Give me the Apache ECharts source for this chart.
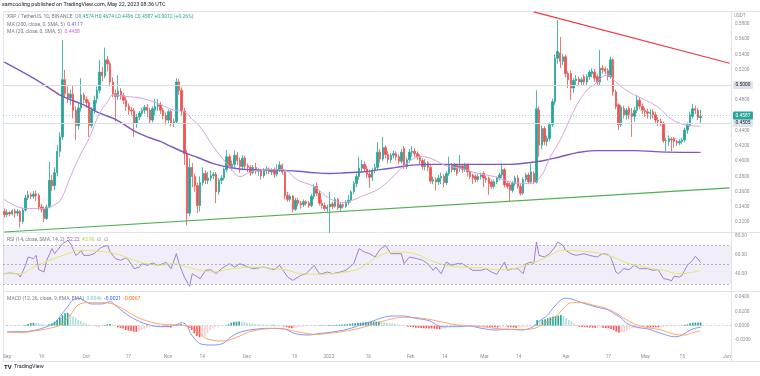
<!DOCTYPE html>
<html>
<head>
<meta charset="utf-8">
<title>XRP / TetherUS 1D</title>
<script src="https://cdn.jsdelivr.net/npm/echarts@6.0.0/dist/echarts.min.js"></script>
<style>
  html, body { margin: 0; padding: 0; background: #fff; }
  #chart { width: 760px; height: 376px; }
</style>
</head>
<body>
<div id="chart"></div>
<script>
// daily candles, [open, close, low, high], first day 2022-09-01
const candlesSep = [
  [0.334,0.330,0.326,0.338],[0.330,0.333,0.327,0.337],[0.333,0.331,0.328,0.335],[0.331,0.335,0.329,0.337],
  [0.335,0.332,0.326,0.338],[0.332,0.334,0.328,0.337],[0.334,0.321,0.313,0.336],[0.321,0.336,0.318,0.339],
  [0.336,0.352,0.334,0.356],[0.352,0.356,0.349,0.361],[0.356,0.354,0.350,0.359],[0.354,0.357,0.351,0.361],
  [0.357,0.355,0.348,0.362],[0.355,0.340,0.336,0.358],[0.340,0.337,0.333,0.344],[0.337,0.325,0.320,0.341],
  [0.325,0.340,0.323,0.343],[0.340,0.375,0.338,0.399],[0.375,0.368,0.361,0.382],[0.368,0.385,0.362,0.392],
  [0.385,0.413,0.380,0.421],[0.413,0.432,0.406,0.438],[0.432,0.507,0.428,0.559],[0.507,0.489,0.484,0.520],
  [0.489,0.483,0.476,0.498],[0.483,0.488,0.474,0.494],[0.488,0.467,0.456,0.500],[0.467,0.447,0.428,0.472],
  [0.447,0.470,0.442,0.476],[0.470,0.487,0.465,0.509]
];
const candlesOct = [
  [0.487,0.481,0.476,0.490],[0.481,0.477,0.470,0.485],[0.477,0.447,0.432,0.480],[0.447,0.467,0.444,0.471],
  [0.467,0.480,0.462,0.486],[0.482,0.493,0.476,0.498],[0.493,0.517,0.489,0.533],[0.517,0.512,0.505,0.524],
  [0.512,0.533,0.509,0.549],[0.533,0.528,0.518,0.538],[0.528,0.504,0.498,0.531],[0.504,0.489,0.484,0.510],
  [0.489,0.485,0.452,0.494],[0.485,0.492,0.480,0.513],[0.492,0.486,0.481,0.496],[0.486,0.480,0.475,0.490],
  [0.480,0.472,0.466,0.484],[0.472,0.467,0.461,0.476],[0.467,0.466,0.460,0.471],[0.466,0.450,0.432,0.470],
  [0.450,0.458,0.444,0.462],[0.458,0.463,0.454,0.466],[0.463,0.467,0.459,0.470],[0.467,0.471,0.462,0.474],
  [0.471,0.467,0.458,0.475],[0.467,0.454,0.449,0.470],[0.454,0.469,0.451,0.472],[0.467,0.472,0.460,0.482],
  [0.472,0.474,0.466,0.482],[0.474,0.467,0.462,0.478],[0.467,0.460,0.455,0.470]
];
const candlesNov = [
  [0.460,0.454,0.448,0.464],[0.454,0.465,0.450,0.468],[0.465,0.450,0.446,0.468],[0.450,0.452,0.445,0.456],
  [0.452,0.504,0.450,0.509],[0.504,0.493,0.487,0.508],[0.493,0.466,0.460,0.497],[0.466,0.410,0.395,0.470],
  [0.410,0.332,0.316,0.415],[0.332,0.392,0.328,0.404],[0.392,0.380,0.366,0.398],[0.380,0.368,0.360,0.384],
  [0.368,0.342,0.332,0.372],[0.342,0.372,0.334,0.380],[0.372,0.384,0.368,0.392],[0.384,0.375,0.370,0.388],
  [0.375,0.378,0.370,0.386],[0.378,0.381,0.374,0.388],[0.381,0.383,0.377,0.386],[0.383,0.360,0.345,0.386],
  [0.360,0.375,0.356,0.378],[0.375,0.378,0.370,0.382],[0.378,0.389,0.375,0.392],[0.389,0.406,0.386,0.415],
  [0.406,0.393,0.390,0.409],[0.393,0.396,0.388,0.401],[0.396,0.408,0.392,0.414],[0.408,0.401,0.395,0.412],
  [0.401,0.393,0.385,0.405],[0.393,0.404,0.390,0.408]
];
const candlesDec = [
  [0.404,0.394,0.390,0.407],[0.394,0.392,0.386,0.397],[0.392,0.385,0.381,0.395],[0.385,0.392,0.383,0.395],
  [0.392,0.387,0.383,0.398],[0.387,0.388,0.381,0.391],[0.388,0.381,0.376,0.390],[0.381,0.388,0.378,0.391],
  [0.388,0.390,0.383,0.394],[0.390,0.386,0.383,0.392],[0.386,0.389,0.382,0.391],[0.389,0.383,0.378,0.392],
  [0.383,0.389,0.380,0.396],[0.389,0.395,0.386,0.400],[0.395,0.386,0.382,0.397],[0.386,0.355,0.350,0.388],
  [0.355,0.350,0.347,0.360],[0.350,0.354,0.347,0.357],[0.354,0.337,0.333,0.356],[0.337,0.349,0.335,0.352],
  [0.349,0.345,0.341,0.352],[0.345,0.343,0.338,0.348],[0.343,0.347,0.340,0.350],[0.347,0.345,0.342,0.349],
  [0.345,0.342,0.339,0.348],[0.342,0.354,0.340,0.357],[0.354,0.367,0.350,0.370],[0.367,0.358,0.354,0.372],
  [0.358,0.345,0.342,0.361],[0.345,0.342,0.338,0.350],[0.342,0.338,0.335,0.346]
];
const candlesJan = [
  [0.338,0.340,0.334,0.343],[0.340,0.344,0.306,0.360],[0.344,0.341,0.337,0.347],[0.341,0.350,0.339,0.353],
  [0.350,0.339,0.336,0.352],[0.339,0.343,0.334,0.346],[0.343,0.341,0.338,0.345],[0.341,0.346,0.339,0.349],
  [0.346,0.349,0.343,0.356],[0.349,0.360,0.346,0.362],[0.360,0.371,0.357,0.374],[0.371,0.380,0.366,0.384],
  [0.380,0.391,0.376,0.406],[0.391,0.396,0.386,0.402],[0.396,0.390,0.386,0.400],[0.390,0.383,0.378,0.394],
  [0.383,0.379,0.365,0.389],[0.379,0.388,0.374,0.391],[0.388,0.392,0.384,0.397],[0.392,0.412,0.389,0.425],
  [0.412,0.403,0.398,0.416],[0.403,0.418,0.400,0.432],[0.418,0.409,0.404,0.421],[0.409,0.402,0.397,0.413],
  [0.402,0.408,0.398,0.411],[0.408,0.410,0.404,0.414],[0.410,0.406,0.401,0.413],[0.406,0.400,0.396,0.409],
  [0.400,0.412,0.397,0.416],[0.417,0.393,0.390,0.420],[0.393,0.402,0.390,0.405]
];
const candlesFeb = [
  [0.402,0.412,0.398,0.416],[0.412,0.413,0.406,0.420],[0.413,0.410,0.405,0.417],[0.410,0.406,0.402,0.413],
  [0.406,0.401,0.396,0.409],[0.401,0.393,0.389,0.404],[0.393,0.398,0.388,0.403],[0.398,0.392,0.387,0.400],
  [0.392,0.374,0.371,0.395],[0.374,0.376,0.370,0.380],[0.376,0.373,0.362,0.379],[0.373,0.378,0.369,0.382],
  [0.378,0.380,0.370,0.385],[0.380,0.372,0.366,0.383],[0.372,0.384,0.369,0.387],[0.384,0.395,0.381,0.406],
  [0.395,0.389,0.385,0.398],[0.389,0.395,0.386,0.398],[0.395,0.384,0.381,0.397],[0.392,0.394,0.386,0.408],
  [0.394,0.389,0.385,0.396],[0.389,0.395,0.386,0.398],[0.395,0.386,0.380,0.397],[0.386,0.380,0.377,0.389],
  [0.382,0.378,0.370,0.384],[0.380,0.376,0.372,0.383],[0.376,0.380,0.373,0.383],[0.380,0.382,0.376,0.385]
];
const candlesMar = [
  [0.384,0.378,0.366,0.387],[0.378,0.376,0.372,0.381],[0.378,0.371,0.356,0.380],[0.373,0.367,0.364,0.376],
  [0.367,0.373,0.364,0.376],[0.373,0.378,0.370,0.380],[0.378,0.382,0.375,0.385],[0.382,0.389,0.378,0.397],
  [0.389,0.369,0.366,0.391],[0.371,0.367,0.364,0.374],[0.369,0.362,0.347,0.372],[0.362,0.371,0.359,0.374],
  [0.371,0.378,0.367,0.381],[0.378,0.367,0.364,0.382],[0.367,0.358,0.355,0.370],[0.358,0.376,0.356,0.379],
  [0.376,0.382,0.373,0.385],[0.382,0.373,0.370,0.385],[0.373,0.386,0.370,0.397],[0.384,0.373,0.370,0.387],
  [0.373,0.469,0.371,0.493],[0.467,0.421,0.406,0.472],[0.421,0.443,0.416,0.447],[0.443,0.426,0.421,0.446],
  [0.426,0.430,0.420,0.434],[0.430,0.448,0.426,0.451],[0.448,0.478,0.445,0.482],[0.478,0.535,0.474,0.540],
  [0.535,0.544,0.528,0.585],[0.542,0.531,0.522,0.563],[0.531,0.537,0.526,0.541]
];
const candlesApr = [
  [0.537,0.515,0.510,0.540],[0.515,0.507,0.496,0.518],[0.515,0.496,0.480,0.519],[0.496,0.506,0.490,0.509],
  [0.506,0.508,0.500,0.513],[0.508,0.504,0.498,0.511],[0.504,0.507,0.500,0.510],[0.511,0.504,0.500,0.514],
  [0.504,0.511,0.500,0.514],[0.511,0.517,0.507,0.520],[0.515,0.518,0.510,0.522],[0.517,0.509,0.504,0.521],
  [0.511,0.504,0.500,0.514],[0.504,0.522,0.500,0.546],[0.522,0.520,0.515,0.526],[0.521,0.518,0.514,0.524],
  [0.519,0.511,0.506,0.522],[0.511,0.533,0.508,0.537],[0.533,0.491,0.486,0.535],[0.491,0.472,0.468,0.494],
  [0.474,0.448,0.441,0.476],[0.448,0.471,0.445,0.474],[0.469,0.461,0.456,0.473],[0.461,0.467,0.455,0.470],
  [0.469,0.461,0.455,0.472],[0.463,0.459,0.432,0.470],[0.459,0.467,0.452,0.471],[0.467,0.480,0.463,0.487],
  [0.480,0.472,0.468,0.483],[0.472,0.467,0.462,0.476]
];
const candlesMay = [
  [0.467,0.465,0.458,0.470],[0.465,0.463,0.456,0.469],[0.463,0.464,0.455,0.468],[0.465,0.461,0.456,0.468],
  [0.461,0.454,0.450,0.465],[0.454,0.452,0.446,0.458],[0.452,0.450,0.446,0.456],[0.450,0.427,0.424,0.452],
  [0.427,0.427,0.413,0.431],[0.426,0.430,0.420,0.434],[0.429,0.428,0.413,0.432],[0.430,0.426,0.418,0.432],
  [0.426,0.424,0.420,0.428],[0.424,0.426,0.421,0.429],[0.426,0.428,0.422,0.431],[0.428,0.441,0.425,0.444],
  [0.441,0.448,0.436,0.451],[0.448,0.461,0.445,0.465],[0.459,0.469,0.456,0.475],[0.469,0.467,0.462,0.473],
  [0.467,0.4575,0.454,0.470],[0.4574,0.4587,0.4496,0.4674]
];

// moving averages, [day index, value]
const ma200Points = [
  [0,0.530],[11,0.509],[17,0.496],[22,0.485],[30,0.474],[36,0.463],[42,0.455],[49,0.440],[54,0.432],
  [59,0.426],[62,0.421],[69,0.410],[73,0.405],[79,0.397],[85,0.392],[92,0.389],[98,0.389],[105,0.388],
  [111,0.387],[117,0.385],[123,0.384],[129,0.385],[135,0.386],[142,0.389],[148,0.392],[154,0.395],
  [161,0.396],[167,0.396],[179,0.396],[191,0.396],[200,0.399],[204,0.401],[210,0.406],[216,0.411],
  [223,0.414],[238,0.414],[250,0.412],[263,0.4117]
];
const ma20Points = [
  [0,0.350],[8,0.338],[14,0.338],[20,0.345],[22,0.354],[25,0.380],[29,0.4105],[32,0.430],[36,0.463],
  [39,0.478],[41,0.487],[46,0.485],[51,0.483],[58,0.476],[64,0.467],[68,0.465],[71,0.455],[74,0.445],
  [79,0.419],[86,0.389],[89,0.380],[93,0.386],[98,0.389],[105,0.389],[111,0.375],[117,0.367],[123,0.351],
  [128,0.346],[130,0.347],[135,0.354],[142,0.365],[148,0.384],[152,0.397],[157,0.406],[161,0.404],
  [167,0.394],[172,0.391],[179,0.384],[185,0.380],[191,0.373],[196,0.371],[199,0.371],[203,0.382],
  [206,0.404],[210,0.428],[216,0.472],[220,0.493],[223,0.501],[226,0.511],[228,0.513],[231,0.504],
  [235,0.493],[241,0.482],[247,0.471],[251,0.458],[255,0.450],[259,0.447],[263,0.4458]
];
// drawn trend lines and horizontal levels
const resistanceLine = [[200,0.596],[274,0.5285]];
const supportLine = [[0,0.3073],[274,0.3651]];
const levelLines = [0.5000, 0.4505];

// RSI (14) and its SMA (14)
const rsiPoints = [
  [0,40.6],[2,41.3],[5,40.6],[6,37.2],[8,49.3],[9,57.9],[11,56.2],[12,59.6],[13,44.8],[15,42.4],[16,54.5],
  [18,66.6],[19,61.4],[20,64.8],[22,71.7],[24,75.2],[25,71.7],[27,59.6],[28,61.4],[29,64.8],[30,59.6],
  [32,59.6],[34,61.4],[36,66.6],[37,68.3],[39,70],[40,63.1],[42,56.2],[44,54.5],[46,57.2],[47,54.5],
  [49,45.8],[51,47.5],[52,51],[54,49.3],[56,51.6],[58,49.3],[60,51],[61,52.7],[63,45.8],[65,61.4],[66,51],
  [67,44.1],[68,37.2],[70,27.5],[71,40.6],[73,37.2],[74,35.5],[76,44.1],[78,44.8],[80,40.6],[82,45.8],
  [85,51],[87,47.5],[89,51],[92,47.5],[94,45.8],[98,47.5],[102,44.8],[104,49.3],[107,37.2],[109,33.7],
  [112,38.9],[114,40.6],[117,49.3],[119,40.6],[120,40.6],[122,42.4],[124,40.6],[127,42.4],[129,44.1],
  [132,51],[134,66.6],[136,63.1],[138,61.4],[140,57.9],[142,66],[144,70],[146,61.4],[150,61.4],[151,51],
  [153,57.9],[156,56.2],[158,54.5],[160,51],[162,44.1],[163,47.5],[165,40.6],[167,52.7],[169,49.3],
  [171,51],[173,51],[175,47.5],[177,44.1],[180,44.1],[182,45.8],[184,42.4],[186,40],[189,52.7],[190,44.1],
  [192,45.8],[194,45.8],[196,40.6],[197,51],[199,52.7],[200,51],[201,73.4],[202,59.6],[204,57.9],
  [206,61.4],[208,68.3],[209,73.4],[211,70],[212,64.8],[214,61.4],[216,59.6],[219,61.4],[221,59.6],
  [224,57.9],[226,61.4],[228,60.7],[229,57.9],[230,51],[231,42.4],[232,40.6],[234,45.8],[236,44.8],
  [238,49.3],[240,45.8],[243,45.8],[245,44.1],[247,44.8],[249,35.5],[251,34.5],[252,33.1],[253,37.9],
  [255,37.2],[256,38.9],[258,49.3],[260,54.5],[261,58.6],[262,56.2],[263,52.22]
];
const rsiMaPoints = [
  [0,40.6],[6,40.6],[11,47.5],[17,54.5],[24,61.4],[29,64.8],[34,64.1],[39,63.1],[44,59.6],[49,54.5],
  [54,51],[59,49.3],[64,51],[69,47.5],[74,44.1],[79,42.4],[86,45.8],[94,47.5],[102,45.8],[107,44.1],
  [112,40.6],[118,40],[124,40.6],[129,42.4],[134,45.8],[142,59.6],[148,63.1],[155,61.4],[161,54.5],
  [167,49.3],[173,47.5],[180,46.8],[186,44.8],[192,45.8],[199,51],[205,57.9],[211,64.8],[218,64.1],
  [224,62.1],[230,57.9],[236,51],[243,46.8],[249,44.1],[255,40.6],[259,41.6],[263,43.96]
];

// MACD (12, 26, 9)
const macdPoints = [
  [0,-0.0084],[6,-0.0084],[11,-0.006],[15,-0.0014],[18,0.0033],[20,0.0126],[23,0.0266],[25,0.036],
  [27,0.0383],[30,0.0336],[32,0.0304],[36,0.0304],[39,0.0336],[41,0.0289],[44,0.0196],[49,0.008],
  [54,0.001],[59,-0.0014],[64,0.001],[66,0.0042],[68,0.001],[70,-0.013],[74,-0.026],[78,-0.027],
  [82,-0.0245],[85,-0.0154],[89,-0.0084],[94,-0.005],[99,-0.0037],[105,-0.0046],[109,-0.0107],
  [114,-0.013],[119,-0.0107],[124,-0.0084],[129,-0.005],[134,0.001],[138,0.0056],[142,0.0108],
  [146,0.0136],[150,0.0136],[155,0.0103],[160,0.007],[165,-0.0014],[170,-0.0014],[175,-0.0005],
  [180,-0.0037],[185,-0.006],[190,-0.005],[195,-0.006],[199,-0.0023],[202,0.007],[205,0.015],
  [207,0.0243],[210,0.036],[212,0.0383],[214,0.0374],[218,0.0322],[223,0.0266],[228,0.0219],
  [230,0.0173],[233,0.0103],[235,0.0033],[239,-0.0023],[243,-0.0046],[246,-0.0084],[250,-0.013],
  [253,-0.0154],[255,-0.0145],[258,-0.0084],[260,-0.0046],[263,-0.0021]
];
const signalPoints = [
  [0,-0.0093],[6,-0.0093],[11,-0.0069],[16,-0.0037],[20,0.001],[24,0.015],[27,0.029],[31,0.0322],
  [36,0.0322],[40,0.0304],[44,0.0234],[49,0.0126],[54,0.0056],[59,0.0019],[64,0.001],[69,-0.0014],
  [73,-0.0107],[76,-0.0186],[82,-0.0214],[87,-0.0163],[92,-0.0084],[97,-0.005],[102,-0.0037],
  [107,-0.006],[112,-0.0098],[117,-0.0121],[122,-0.0107],[127,-0.0084],[132,-0.005],[137,0.0],
  [142,0.0058],[146,0.0095],[150,0.0118],[155,0.0112],[160,0.009],[165,0.005],[170,0.0015],[175,0.0],
  [180,-0.0014],[185,-0.0037],[190,-0.005],[195,-0.0053],[199,-0.0045],[204,0.0034],[208,0.0126],
  [211,0.0243],[214,0.0322],[218,0.0322],[222,0.029],[227,0.0243],[231,0.0173],[235,0.008],[239,0.001],
  [243,-0.0028],[248,-0.006],[253,-0.012],[257,-0.013],[260,-0.0098],[263,-0.0067]
];
const histSep = [0.0005,0.0003,-0.0002,0.0002,0.0003,0.0002,-0.0003,0.001,0.0025,0.0035,0.004,0.0038,0.0035,0.0025,0.0018,0.0015,0.002,0.0033,0.0056,0.008,0.0115,0.0145,0.0175,0.018,0.016,0.013,0.011,0.0085,0.0065,0.0045];
const histOct = [0.003,0.0015,0.0005,-0.0005,-0.0008,-0.001,-0.0005,0.001,0.002,0.0023,0.0015,0.0005,-0.0023,-0.003,-0.004,-0.006,-0.0068,-0.0075,-0.0084,-0.0088,-0.0084,-0.006,-0.0045,-0.0028,-0.0023,-0.0018,-0.0016,-0.0014,-0.0012,-0.0014,-0.0018];
const histNov = [-0.0023,-0.0028,0.0005,0.001,0.002,0.0023,0.001,-0.001,-0.003,-0.006,-0.0107,-0.0144,-0.0163,-0.0155,-0.0144,-0.0107,-0.006,-0.0037,-0.002,-0.0014,-0.0008,-0.0005,0.0005,0.0019,0.0042,0.0052,0.0056,0.0058,0.0056,0.0052];
const histDec = [0.0042,0.0035,0.0028,0.002,0.0019,0.0018,0.0016,0.0015,0.0014,0.0012,0.0012,0.001,0.0008,0.0005,-0.001,-0.002,-0.003,-0.0037,-0.003,-0.0023,-0.0018,-0.0014,-0.001,-0.0008,-0.0005,-0.0003,0.0003,0.0005,0.0005,0.0008,0.0008];
const histJan = [0.0009,0.0009,0.001,0.0012,0.0015,0.0018,0.002,0.0023,0.0028,0.0032,0.0036,0.004,0.0042,0.0046,0.0049,0.0051,0.0053,0.0056,0.0058,0.006,0.005,0.0047,0.0042,0.0035,0.003,0.0023,0.0019,0.0015,0.001,0.0002,-0.0014];
const histFeb = [-0.0018,-0.0023,-0.0028,-0.003,-0.0033,-0.0035,-0.0037,-0.0039,-0.004,-0.0042,-0.0046,-0.0051,-0.0048,-0.0042,-0.0014,-0.0005,0.0003,0.0005,0.0008,0.0005,0.0003,0.0005,0.0003,-0.0003,-0.0005,-0.0008,-0.0005,-0.0003];
const histMar = [-0.001,-0.0014,-0.0018,-0.0021,-0.0023,-0.0025,-0.0023,-0.002,-0.0018,-0.002,-0.0023,-0.0025,-0.0028,-0.0023,-0.002,-0.0018,-0.0014,-0.001,-0.0005,0.0012,0.0079,0.0075,0.0082,0.0089,0.0103,0.0117,0.0126,0.0135,0.014,0.015,0.0136];
const histApr = [0.0103,0.008,0.0065,0.0033,0.001,-0.0014,-0.0018,-0.002,-0.0023,-0.0025,-0.0028,-0.0028,-0.0025,-0.0023,-0.0028,-0.0033,-0.0037,-0.0045,-0.006,-0.0084,-0.0098,-0.0095,-0.0089,-0.007,-0.0051,-0.0037,-0.0033,-0.003,-0.0028,-0.0025];
const histMay = [-0.0023,-0.0023,-0.0023,-0.0023,-0.0023,-0.0023,-0.0021,-0.0018,-0.0014,-0.0012,-0.001,-0.0009,-0.0007,-0.0005,0.0005,0.0014,0.0019,0.0033,0.0042,0.0044,0.0045,0.0046];

// axis: one category per day, Sep 1 2022 .. Jun 2 2023
const dayCount = 275;
const midMonthTicks = ['2022-09-14','2022-10-17','2022-11-14','2022-12-19','2023-01-16','2023-02-14','2023-03-14','2023-04-17','2023-05-15'];
const monthNames = ['Jan','Feb','Mar','Apr','May','Jun','Jul','Aug','Sep','Oct','Nov','Dec'];

const dates = [];
for (let i = 0; i < dayCount; i++) {
  dates.push(new Date(Date.UTC(2022, 8, 1) + i * 86400000).toISOString().slice(0, 10));
}

const candles = [].concat(candlesSep, candlesOct, candlesNov, candlesDec, candlesJan, candlesFeb, candlesMar, candlesApr, candlesMay);
const hist = [].concat(histSep, histOct, histNov, histDec, histJan, histFeb, histMar, histApr, histMay);

const histBars = hist.map((v, i) => {
  const prev = i > 0 ? hist[i - 1] : v;
  let color;
  if (v >= 0) color = v >= prev ? '#26a69a' : '#b2dfdb';
  else color = v > prev ? '#ffcdd2' : '#ff5252';
  return { value: v, itemStyle: { color: color } };
});

const last = candles[candles.length - 1];
const prevClose = candles[candles.length - 2][1];
const change = last[1] - prevClose;
const lastVal = (arr) => arr[arr.length - 1][1];
const fmt4 = (v) => (Math.abs(v) < 1e-9 ? 0 : v).toFixed(4);
const sign = (v) => (v >= 0 ? '+' : '');

const FONT = 'Roboto, "Noto Sans", sans-serif';
const AXIS_COLOR = '#8b8e97';
const GRID_LEFT = 3, GRID_WIDTH = 728;

const myChart = echarts.init(document.getElementById('chart'));

const xBase = {
  type: 'category', data: dates, boundaryGap: true,
  axisLine: { show: false }, axisTick: { show: false },
  axisLabel: { show: false }, splitLine: { show: false }
};
const yBase = {
  type: 'value', position: 'right',
  splitLine: { show: false }, axisLine: { show: false }, axisTick: { show: false }
};
const yLabel = (digits) => ({
  fontSize: 4.7, color: AXIS_COLOR, fontFamily: FONT, margin: 4,
  formatter: (v) => (Math.abs(v) < 1e-9 ? 0 : v).toFixed(digits)
});

myChart.setOption({
  animation: false,
  backgroundColor: '#ffffff',
  grid: [
    { left: GRID_LEFT, width: GRID_WIDTH, top: 8.75, height: 228.8 },
    { left: GRID_LEFT, width: GRID_WIDTH, top: 235.7, height: 57.9 },
    { left: GRID_LEFT, width: GRID_WIDTH, top: 297.1, height: 57.2 }
  ],
  xAxis: [
    Object.assign({}, xBase, { gridIndex: 0 }),
    Object.assign({}, xBase, { gridIndex: 1 }),
    Object.assign({}, xBase, {
      gridIndex: 2,
      axisLabel: {
        show: true, fontSize: 4.8, color: AXIS_COLOR, fontFamily: FONT, margin: 0,
        interval: (idx, val) => val.slice(8) === '01' || midMonthTicks.indexOf(val) >= 0,
        formatter: (val) => {
          if (val.slice(8) !== '01') return String(Number(val.slice(8)));
          const m = Number(val.slice(5, 7)) - 1;
          return m === 0 ? val.slice(0, 4) : monthNames[m];
        }
      }
    })
  ],
  yAxis: [
    Object.assign({}, yBase, { gridIndex: 0, min: 0.30, max: 0.60, interval: 0.02,
      axisLabel: Object.assign(yLabel(4), { showMinLabel: false, showMaxLabel: false }) }),
    Object.assign({}, yBase, { gridIndex: 1, min: 20, max: 80, interval: 20,
      axisLabel: Object.assign(yLabel(2), { showMinLabel: false }) }),
    Object.assign({}, yBase, { gridIndex: 2, min: -0.04, max: 0.04, interval: 0.02,
      axisLabel: Object.assign(yLabel(4), { showMinLabel: false }) })
  ],
  series: [
    {
      name: 'trend-support', type: 'line', xAxisIndex: 0, yAxisIndex: 0,
      data: supportLine, showSymbol: false, silent: true,
      lineStyle: { color: '#4caf50', width: 1.1 }
    },
    {
      name: 'trend-resistance', type: 'line', xAxisIndex: 0, yAxisIndex: 0,
      data: resistanceLine, showSymbol: false, silent: true,
      lineStyle: { color: '#f23645', width: 1.2 }
    },
    {
      name: 'MA 200', type: 'line', xAxisIndex: 0, yAxisIndex: 0,
      data: ma200Points, showSymbol: false, smooth: 0.4, silent: true,
      lineStyle: { color: '#7e57c2', width: 1.4 }
    },
    {
      name: 'MA 20', type: 'line', xAxisIndex: 0, yAxisIndex: 0,
      data: ma20Points, showSymbol: false, smooth: 0.4, silent: true,
      lineStyle: { color: '#d6a2e3', width: 1 }
    },
    {
      name: 'XRPUSDT', type: 'candlestick', xAxisIndex: 0, yAxisIndex: 0,
      data: candles, barWidth: '72%', silent: true,
      itemStyle: { color: '#26a69a', color0: '#ef5350', borderColor: '#26a69a', borderColor0: '#ef5350', borderWidth: 0.8 },
      markLine: {
        symbol: ['none', 'none'], silent: true, animation: false,
        label: { position: 'end', fontSize: 4.8, fontFamily: FONT, padding: [1.6, 2.6, 1.2, 2.6], distance: 2, borderRadius: 1 },
        data: [
          { yAxis: levelLines[0], lineStyle: { color: '#dadce1', type: 'solid', width: 1 },
            label: { formatter: fmt4(levelLines[0]), backgroundColor: '#e0e3eb', color: '#131722' } },
          { yAxis: levelLines[1], lineStyle: { color: '#dadce1', type: 'solid', width: 1 },
            label: { formatter: fmt4(levelLines[1]), backgroundColor: '#e0e3eb', color: '#131722' } },
          { yAxis: last[1], lineStyle: { color: 'rgba(38,166,154,0.45)', type: [1, 2], width: 1 },
            label: { formatter: fmt4(last[1]), backgroundColor: '#26a69a', color: '#ffffff' } }
        ]
      }
    },
    {
      name: 'RSI', type: 'line', xAxisIndex: 1, yAxisIndex: 1,
      data: rsiPoints, showSymbol: false, silent: true,
      lineStyle: { color: '#9575cd', width: 0.9 },
      markArea: {
        silent: true, itemStyle: { color: 'rgba(126,87,194,0.1)' },
        data: [[{ yAxis: 70 }, { yAxis: 30 }]]
      },
      markLine: {
        symbol: ['none', 'none'], silent: true, label: { show: false },
        lineStyle: { color: '#a3a6af', type: [2, 2], width: 0.8 },
        data: [{ yAxis: 70 }, { yAxis: 50 }, { yAxis: 30 }]
      }
    },
    {
      name: 'RSI MA', type: 'line', xAxisIndex: 1, yAxisIndex: 1,
      data: rsiMaPoints, showSymbol: false, smooth: 0.4, silent: true,
      lineStyle: { color: '#e3e86a', width: 1 }
    },
    {
      name: 'Histogram', type: 'bar', xAxisIndex: 2, yAxisIndex: 2,
      data: histBars, barWidth: '62%', silent: true,
      markLine: {
        symbol: ['none', 'none'], silent: true, label: { show: false },
        lineStyle: { color: '#c3c5cc', type: [2, 2], width: 0.8 },
        data: [{ yAxis: 0 }]
      }
    },
    {
      name: 'MACD', type: 'line', xAxisIndex: 2, yAxisIndex: 2,
      data: macdPoints, showSymbol: false, smooth: 0.4, silent: true,
      lineStyle: { color: '#6d8bfb', width: 0.9 }
    },
    {
      name: 'Signal', type: 'line', xAxisIndex: 2, yAxisIndex: 2,
      data: signalPoints, showSymbol: false, smooth: 0.4, silent: true,
      lineStyle: { color: '#ff9a5a', width: 0.9 }
    }
  ],
  graphic: [
    // pane frame and separators
    { type: 'line', silent: true, shape: { x1: 3.5, y1: 11.5, x2: 760, y2: 11.5 }, style: { stroke: '#e0e3eb', lineWidth: 1 } },
    { type: 'line', silent: true, shape: { x1: 3.5, y1: 232.5, x2: 760, y2: 232.5 }, style: { stroke: '#e0e3eb', lineWidth: 1 } },
    { type: 'line', silent: true, shape: { x1: 3.5, y1: 291.5, x2: 760, y2: 291.5 }, style: { stroke: '#e0e3eb', lineWidth: 1 } },
    { type: 'line', silent: true, shape: { x1: 3.5, y1: 361.5, x2: 760, y2: 361.5 }, style: { stroke: '#e0e3eb', lineWidth: 1 } },
    { type: 'line', silent: true, shape: { x1: 3.5, y1: 11.5, x2: 3.5, y2: 361.5 }, style: { stroke: '#e0e3eb', lineWidth: 1 } },
    { type: 'line', silent: true, shape: { x1: 731.5, y1: 11.5, x2: 731.5, y2: 361.5 }, style: { stroke: '#e0e3eb', lineWidth: 1 } },
    // header
    { type: 'text', x: 2, y: 5, silent: true,
      style: { text: 'samcooling published on TradingView.com, May 22, 2023 08:36 UTC', fontSize: 5.4, fontFamily: FONT, fill: '#131722', verticalAlign: 'middle' } },
    { type: 'text', x: 734, y: 16, silent: true,
      style: { text: 'USDT', fontSize: 4.7, fontFamily: FONT, fill: AXIS_COLOR, verticalAlign: 'middle' } },
    // legends
    { type: 'text', x: 7, y: 17, silent: true,
      style: {
        text: '{g|XRP / TetherUS, 1D, BINANCE}  {g|O}{t|' + fmt4(last[0]) + '} {g|H}{t|' + fmt4(last[3]) + '} {g|L}{t|' + fmt4(last[2]) +
          '} {g|C}{t|' + fmt4(last[1]) + '} {t|' + sign(change) + fmt4(change) + ' (' + sign(change) + (change / prevClose * 100).toFixed(2) + '%)}',
        fontSize: 5, fontFamily: FONT, verticalAlign: 'middle',
        rich: { g: { fill: '#787b86', fontSize: 5, fontFamily: FONT }, t: { fill: '#26a69a', fontSize: 5, fontFamily: FONT } }
      } },
    { type: 'text', x: 7, y: 24.5, silent: true,
      style: {
        text: '{g|MA (200, close, 0, SMA, 5)}  {v|' + fmt4(lastVal(ma200Points)) + '}',
        fontSize: 5, fontFamily: FONT, verticalAlign: 'middle',
        rich: { g: { fill: '#787b86', fontSize: 5, fontFamily: FONT }, v: { fill: '#7e57c2', fontSize: 5, fontFamily: FONT } }
      } },
    { type: 'text', x: 7, y: 31.5, silent: true,
      style: {
        text: '{g|MA (20, close, 0, SMA, 5)}  {v|' + fmt4(lastVal(ma20Points)) + '}',
        fontSize: 5, fontFamily: FONT, verticalAlign: 'middle',
        rich: { g: { fill: '#787b86', fontSize: 5, fontFamily: FONT }, v: { fill: '#c46fd6', fontSize: 5, fontFamily: FONT } }
      } },
    { type: 'text', x: 7, y: 240, silent: true,
      style: {
        text: '{g|RSI (14, close, SMA, 14, 2)}  {r|' + lastVal(rsiPoints).toFixed(2) + '}  {y|' + lastVal(rsiMaPoints).toFixed(2) + '}  {g|\u2205  \u2205}',
        fontSize: 5, fontFamily: FONT, verticalAlign: 'middle',
        rich: { g: { fill: '#787b86', fontSize: 5, fontFamily: FONT }, r: { fill: '#7e57c2', fontSize: 5, fontFamily: FONT }, y: { fill: '#c5cc3a', fontSize: 5, fontFamily: FONT } }
      } },
    { type: 'text', x: 7, y: 298.5, silent: true,
      style: {
        text: '{g|MACD (12, 26, close, 9, EMA, EMA)}  {h|' + fmt4(hist[hist.length - 1]) + '}  {b|' + fmt4(lastVal(macdPoints)) + '}  {o|' + fmt4(lastVal(signalPoints)) + '}',
        fontSize: 5, fontFamily: FONT, verticalAlign: 'middle',
        rich: { g: { fill: '#787b86', fontSize: 5, fontFamily: FONT }, h: { fill: '#80cbc4', fontSize: 5, fontFamily: FONT },
                b: { fill: '#2962ff', fontSize: 5, fontFamily: FONT }, o: { fill: '#ff6d00', fontSize: 5, fontFamily: FONT } }
      } },
    // footer logo
    { type: 'text', x: 4, y: 367, silent: true,
      style: { text: 'TV', fontSize: 6, fontWeight: 'bold', fontFamily: FONT, fill: '#131722', verticalAlign: 'middle' } },
    { type: 'text', x: 14, y: 367, silent: true,
      style: { text: 'TradingView', fontSize: 5.4, fontFamily: FONT, fill: '#131722', verticalAlign: 'middle' } }
  ]
});
</script>
</body>
</html>
